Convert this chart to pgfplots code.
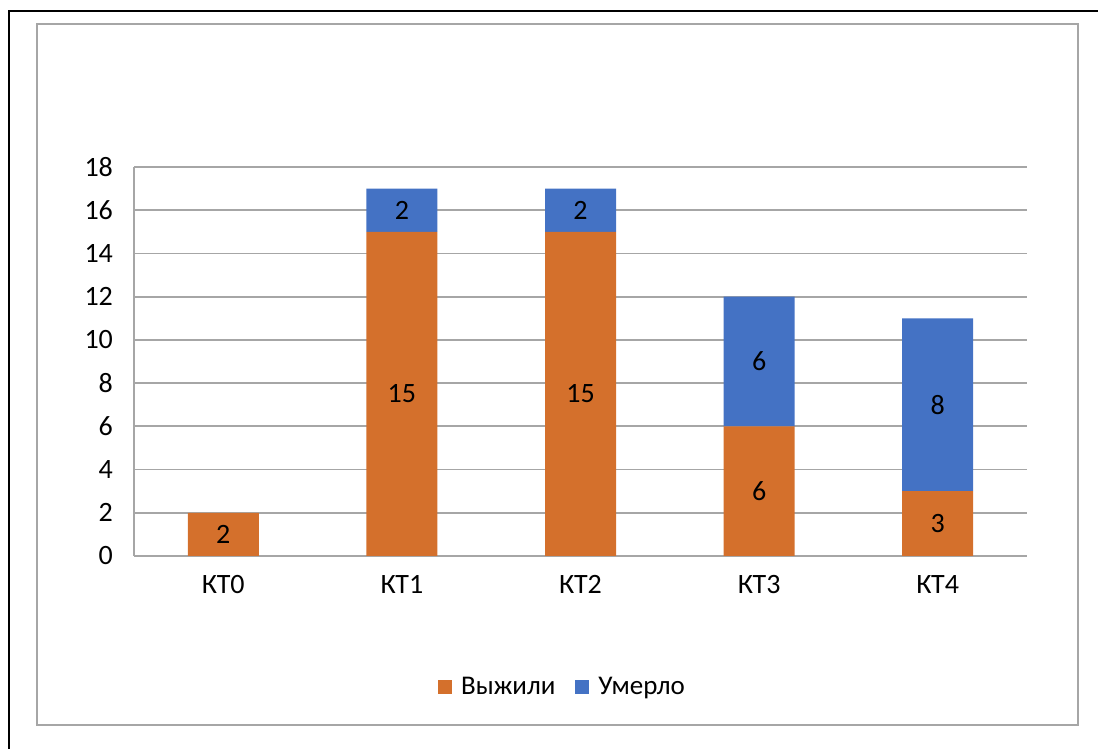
\documentclass[border=0pt]{standalone}
\usepackage{pgfplots}
\pgfplotsset{compat=1.18}
\usepackage{fontspec}
\setmainfont{Carlito}
\definecolor{cOr}{HTML}{D4702C}
\definecolor{cBl}{HTML}{4472C4}
\definecolor{cGr}{HTML}{A6A6A6}
\begin{document}
\begin{tikzpicture}
\useasboundingbox (0pt,0pt) rectangle (549pt,374.5pt);
\draw[black,line width=1pt] (4.5pt,-5pt) -- (4.5pt,369pt) -- (560pt,369pt);
\draw[cGr,line width=1pt] (18.25pt,12pt) rectangle (539pt,362.5pt);
\begin{axis}[
  at={(67pt,96.5pt)}, anchor=south west,
  scale only axis, width=446.5pt, height=194.5pt,
  ybar stacked, bar width=35.5pt,
  xmin=-0.5, xmax=4.5, ymin=0, ymax=18,
  xtick={0,1,2,3,4}, xticklabels={КТ0,КТ1,КТ2,КТ3,КТ4},
  ytick={0,2,...,18},
  /pgf/number format/assume math mode=true,
  major tick length=0pt,
  axis x line*=bottom, axis y line*=left,
  axis line style={cGr,line width=0.9pt,-},
  ymajorgrids, grid style={cGr,line width=0.9pt},
  tick label style={font=\fontsize{14}{16}\selectfont, text=black},
  yticklabel style={xshift=-7pt},
  xticklabel style={yshift=-6pt},
  nodes near coords, point meta=explicit symbolic,
  nodes near coords style={anchor=center, font=\fontsize{14}{16}\selectfont, text=black},
  legend style={at={(0.481,-0.337)}, anchor=center, draw=none, fill=none,
    font=\fontsize{13.5}{16}\selectfont, legend columns=-1,
    /tikz/every even column/.append style={column sep=8pt}},
  legend image code/.code={\fill[#1] (0pt,-3.5pt) rectangle (7pt,3.5pt); \path (9.5pt,0pt);},
]
\addplot[fill=cOr, draw=none] coordinates {(0,2) [2] (1,15) [15] (2,15) [15] (3,6) [6] (4,3) [3]};
\addlegendentry{Выжили}
\addplot[fill=cBl, draw=none] coordinates {(0,0) [] (1,2) [2] (2,2) [2] (3,6) [6] (4,8) [8]};
\addlegendentry{Умерло}
\end{axis}
\end{tikzpicture}
\end{document}
